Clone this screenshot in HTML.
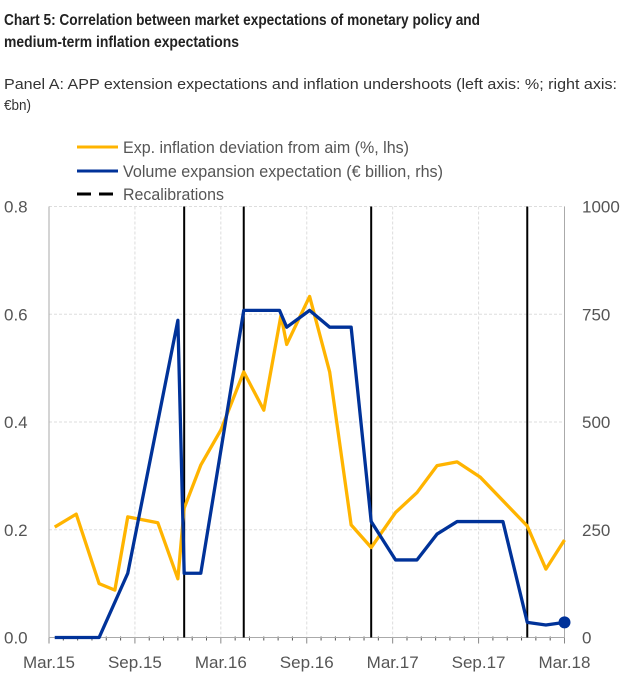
<!DOCTYPE html>
<html><head><meta charset="utf-8"><style>
body{margin:0;background:#fff;width:626px;height:675px;overflow:hidden}
svg{display:block;font-family:"Liberation Sans",sans-serif}
</style></head><body>
<svg id="chart" width="626" height="675" viewBox="0 0 626 675" xmlns="http://www.w3.org/2000/svg">
<text x="4" y="25" font-size="16" font-weight="bold" fill="#222" textLength="476" lengthAdjust="spacingAndGlyphs">Chart 5: Correlation between market expectations of monetary policy and</text>
<text x="4" y="47" font-size="16" font-weight="bold" fill="#222" textLength="235" lengthAdjust="spacingAndGlyphs">medium-term inflation expectations</text>
<text x="4" y="89" font-size="15" fill="#333" textLength="613" lengthAdjust="spacingAndGlyphs">Panel A: APP extension expectations and inflation undershoots (left axis: %; right axis:</text>
<text x="4" y="110" font-size="15" fill="#333" textLength="27" lengthAdjust="spacingAndGlyphs">€bn)</text>
<g>
<line x1="77" y1="147" x2="118" y2="147" stroke="#ffb400" stroke-width="3"/>
<text x="123" y="153" font-size="17" fill="#555" textLength="286" lengthAdjust="spacingAndGlyphs">Exp. inflation deviation from aim (%, lhs)</text>
<line x1="77" y1="171" x2="118" y2="171" stroke="#003299" stroke-width="3"/>
<text x="123" y="177" font-size="17" fill="#555" textLength="320" lengthAdjust="spacingAndGlyphs">Volume expansion expectation (€ billion, rhs)</text>
<line x1="77" y1="194" x2="115" y2="194" stroke="#000" stroke-width="3" stroke-dasharray="14,8"/>
<text x="123" y="200" font-size="17" fill="#555" textLength="101" lengthAdjust="spacingAndGlyphs">Recalibrations</text>
</g>
<g id="plot"></g>
</svg>
<script>
const xTickLabels=["Mar.15","Sep.15","Mar.16","Sep.16","Mar.17","Sep.17","Mar.18"];
const xTickMonths=[0,6,12,18,24,30,36];
const leftTicks=[0,0.2,0.4,0.6,0.8];
const leftTickLabels=["0.0","0.2","0.4","0.6","0.8"];
const rightTicks=[0,250,500,750,1000];
const inflMonths=[0.4,1.9,3.5,4.6,5.5,7.6,9,9.44,10.6,12,13.6,15,16.2,16.6,18.2,19.6,21.1,22.5,24.2,25.7,27.1,28.5,30.1,33.4,34.7,36];
const inflValues=[0.205,0.229,0.1,0.088,0.224,0.213,0.109,0.24,0.32,0.385,0.493,0.422,0.598,0.544,0.633,0.493,0.209,0.167,0.232,0.269,0.319,0.326,0.298,0.207,0.127,0.181];
const volMonths=[0.4,3.5,5.5,9,9.44,10.6,13.6,16.1,16.6,18.2,19.6,21.1,22.5,24.2,25.7,27.1,28.5,31.7,33.4,34.7,36];
const volValues=[0,0,149,736,149,149,759,759,720,759,720,720,269,180,180,240,269,269,35,29,35];
const recalMonths=[9.44,13.6,22.5,33.4];

const L=49,R=564.5,T=206.5,B=637.5;
const xs=m=>L+(R-L)*m/36;
const yl=v=>B-(B-T)*v/0.8;
const yr=v=>B-(B-T)*v/1000;
const NS="http://www.w3.org/2000/svg";
const g=document.getElementById('plot');
function mk(t,a){const e=document.createElementNS(NS,t);for(const k in a)e.setAttribute(k,a[k]);g.appendChild(e);return e;}

leftTicks.forEach((v,i)=>{
  if(v>0){const gl=mk('line',{x1:L,x2:R,y1:yl(v),y2:yl(v),stroke:'#ddd','stroke-dasharray':'3,2'});
  
  }
  const t=mk('text',{x:4,y:yl(v)+6,'font-size':17,fill:'#555'});t.textContent=leftTickLabels[i];
  
  
});
rightTicks.forEach(v=>{
  const t=mk('text',{x:582,y:yr(v)+6,'font-size':17,fill:'#555'});t.textContent=String(v);
  
  
});
xTickMonths.forEach((m,i)=>{
  if(m>0&&m<36){const gl=mk('line',{x1:xs(m),x2:xs(m),y1:T,y2:B,stroke:'#ddd','stroke-dasharray':'3,2'});
  
  }
  const tk=mk('line',{x1:xs(m),x2:xs(m),y1:B,y2:B+6,stroke:'#888'});
  
  
  const t=mk('text',{x:xs(m),y:668,'font-size':17,fill:'#555','text-anchor':'middle'});t.textContent=xTickLabels[i];
  
  
});
for(let m=1;m<36;m++){if(m%6){const tk=mk('line',{x1:xs(m),x2:xs(m),y1:B-1,y2:B+3,stroke:'#555'});

}}
const ax=mk('path',{d:`M${L},${T}V${B}H${R}V${T}`,fill:'none',stroke:'#aaa'});



recalMonths.forEach(m=>{
  const l=mk('line',{x1:xs(m),x2:xs(m),y1:T,y2:B,stroke:'#000','stroke-width':2});
  
  
});
const pi=mk('polyline',{points:inflMonths.map((m,i)=>xs(m)+','+yl(inflValues[i])).join(' '),fill:'none',stroke:'#ffb400','stroke-width':3.3,'stroke-linejoin':'round'});


const pv=mk('polyline',{points:volMonths.map((m,i)=>xs(m)+','+yr(volValues[i])).join(' '),fill:'none',stroke:'#003299','stroke-width':3.3,'stroke-linejoin':'round'});


const n=volMonths.length-1;
const d=mk('circle',{cx:xs(volMonths[n]),cy:yr(volValues[n]),r:6,fill:'#003299'});


</script>
</body></html>
